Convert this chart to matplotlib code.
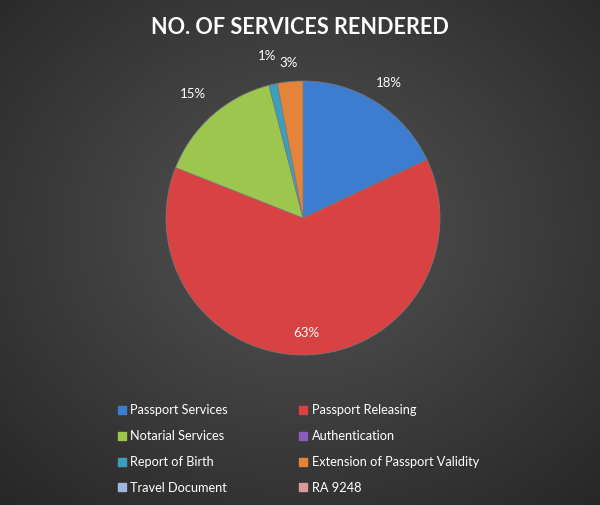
import numpy as np
import matplotlib
matplotlib.use("Agg")
import matplotlib.pyplot as plt
from matplotlib.lines import Line2D

categories = ["Passport Services", "Passport Releasing", "Notarial Services", "Authentication",
              "Report of Birth", "Extension of Passport Validity", "Travel Document", "RA 9248"]
values = [18, 63, 15, 0, 1, 3, 0, 0]
colors = ["#3D7DD0", "#D94242", "#9DC64E", "#8A5CC0", "#3CA0BC", "#E3843A", "#9EB6E0", "#D9989A"]
label_dist = [1.17, 0.84, 1.21, 1.2, 1.21, 1.14, 1.2, 1.2]

plt.rcParams['font.family'] = ['Lato', 'DejaVu Sans']

fig = plt.figure(figsize=(6.0, 5.05), dpi=100)

# radial gradient background
bg = fig.add_axes([0, 0, 1, 1])
yy, xx = np.mgrid[0:505, 0:600]
d = np.sqrt(((xx - 300) / 420.0) ** 2 + ((yy - 230) / 360.0) ** 2)
shade = np.clip(0.33 - 0.17 * d, 0.14, 0.34)
bg.imshow(np.dstack([shade, shade, shade]), aspect='auto', extent=[0, 1, 0, 1])
bg.axis('off')

fig.text(0.5, 0.945, "NO. OF SERVICES RENDERED", ha='center', va='center',
         color='white', fontsize=15.6, fontweight='bold')

cx, cy, r = 303 / 600, 1 - 218 / 505, 137
ax = fig.add_axes([cx - r / 600, cy - r / 505, 2 * r / 600, 2 * r / 505])
wedges, texts = ax.pie(values, colors=colors, startangle=90, counterclock=False,
                       wedgeprops=dict(edgecolor='#7a7a7a', linewidth=0.5))
total = sum(values)
for w, v, dist in zip(wedges, values, label_dist):
    if v == 0:
        w.set_visible(False)
        continue
    ang = np.deg2rad((w.theta1 + w.theta2) / 2)
    ax.text(dist * np.cos(ang), dist * np.sin(ang), f"{round(100 * v / total)}%",
            ha='center', va='center', color='white', fontsize=9.5)
ax.set_xlim(-1, 1)
ax.set_ylim(-1, 1)
ax.set_aspect('auto')

handles = [Line2D([0], [0], marker='s', linestyle='none', markersize=5.5,
                  markerfacecolor=c, markeredgecolor=c) for c in colors]
order = [0, 2, 4, 6, 1, 3, 5, 7]
leg = fig.legend([handles[i] for i in order], [categories[i] for i in order],
                 ncol=2, loc='upper left',
                 bbox_to_anchor=(0.177, 0.222), frameon=False, labelcolor='white',
                 fontsize=9.2, handlelength=0.6, handletextpad=0.4,
                 columnspacing=5.6, labelspacing=1.08)
fig.savefig("out.png", dpi=100)
